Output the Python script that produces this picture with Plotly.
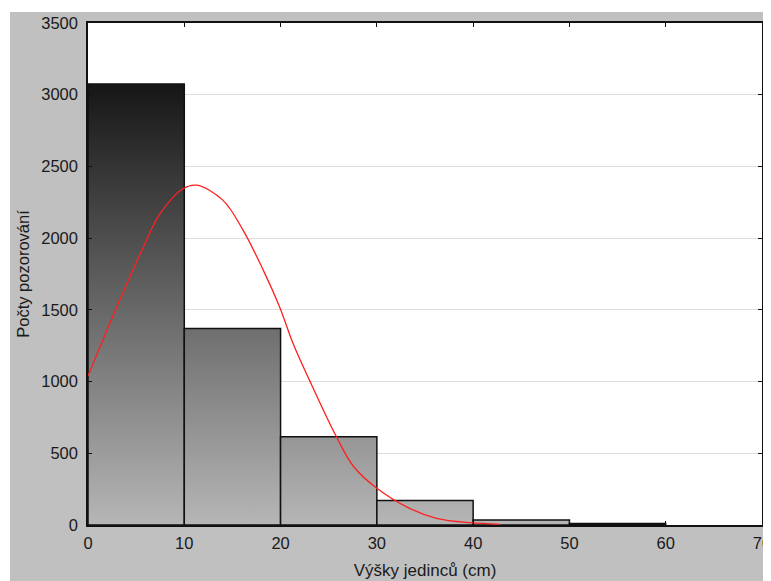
import plotly.graph_objects as go

# Histogram data
bin_edges = [0, 10, 20, 30, 40, 50, 60]
counts = [3075, 1370, 615, 170, 35, 10]

# Fitted curve
curve_x = [0, 1.25, 3.3, 5.6, 7.5, 9.9, 11.3, 14.0, 16.1, 18.2, 19.9, 21.3, 23.0,
           25.8, 27.6, 30.0, 33.4, 36.2, 39.7, 42.8]
curve_y = [1040, 1242, 1568, 1916, 2172, 2346, 2369, 2265, 2056, 1777, 1520, 1266, 1010,
           615, 406, 256, 116, 47, 16, 5]

x_ticks = [0, 10, 20, 30, 40, 50, 60, 70]
y_ticks = [0, 500, 1000, 1500, 2000, 2500, 3000, 3500]

x_title = "Výšky jedinců (cm)"
y_title = "Počty pozorování"

# page body has an 8px default margin, so the figure starts at (8, 8)
W, H = 763, 573
ML, MR, MT, MB = 80, 9, 15, 56
PW, PH = W - ML - MR, H - MT - MB

fig = go.Figure()

grad = dict(type="vertical", colorscale=[[0, "#b6b6b6"], [1, "#161616"]],
            start=0, stop=max(counts))

for i, c in enumerate(counts):
    x0, x1 = bin_edges[i], bin_edges[i + 1]
    fig.add_trace(go.Scatter(
        x=[x0, x0, x1, x1, x0], y=[0, c, c, 0, 0],
        mode="lines", fill="toself", fillgradient=grad,
        line=dict(color="#111111", width=1.5),
        showlegend=False, hoverinfo="skip"))

fig.add_trace(go.Scatter(
    x=curve_x, y=curve_y, mode="lines", line=dict(color="#ff2020", width=1.3, shape="spline"),
    showlegend=False))

def px2x(px):
    return (px - ML) / PW

def py2y(py):
    return (H - MB - py) / PH

shapes = [
    dict(type="rect", xref="paper", yref="paper", layer="below",
         x0=px2x(-2), x1=px2x(2), y0=py2y(H + 2), y1=py2y(-2),
         fillcolor="white", line=dict(width=0)),
    dict(type="rect", xref="paper", yref="paper", layer="below",
         x0=px2x(-2), x1=px2x(W + 2), y0=py2y(4), y1=py2y(-2),
         fillcolor="white", line=dict(width=0)),
]

font = dict(family="Liberation Sans, Arial, sans-serif", size=16.5, color="#1a1a1a")

fig.update_layout(
    width=W, height=H,
    margin=dict(l=ML, r=MR, t=MT, b=MB, pad=0),
    paper_bgcolor="#c0c0c0", plot_bgcolor="white",
    font=font, shapes=shapes, showlegend=False,
    xaxis=dict(range=[0, 70], tickvals=x_ticks, showgrid=False, zeroline=False,
               automargin=False, ticklabelstandoff=2, ticklabeloverflow="allow",
               showline=True, linecolor="#111111", linewidth=1.5, mirror="ticks",
               ticks="inside", ticklen=4, tickcolor="#111111",
               title=dict(text=x_title, font=dict(size=17), standoff=14)),
    yaxis=dict(range=[0, 3500], tickvals=y_ticks, showgrid=True, gridcolor="#dedede",
               gridwidth=1, zeroline=False, automargin=False, ticklabelstandoff=5,
               showline=True, linecolor="#111111", linewidth=1.5, mirror="ticks",
               ticks="inside", ticklen=4, tickcolor="#111111",
               title=dict(text=y_title, font=dict(size=16.5), standoff=7)),
)

fig.write_html("out.html", post_script="document.body.style.overflow='hidden';")
